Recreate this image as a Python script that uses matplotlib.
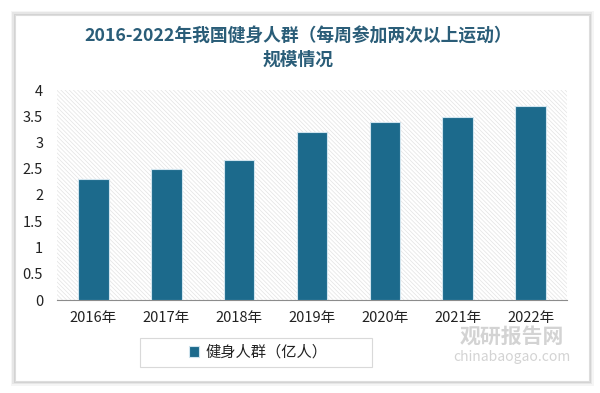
import matplotlib
matplotlib.use("Agg")
import matplotlib.pyplot as plt
from matplotlib.patches import Rectangle

plt.rcParams['font.family'] = ['Noto Sans CJK SC', 'DejaVu Sans']
plt.rcParams['hatch.color'] = '#e3e3e3'
plt.rcParams['hatch.linewidth'] = 0.5

categories = ['2016年', '2017年', '2018年', '2019年', '2020年', '2021年', '2022年']
values = [2.3, 2.5, 2.67, 3.2, 3.4, 3.48, 3.7]
series_name = '健身人群（亿人）'
title = '2016-2022年我国健身人群（每周参加两次以上运动）\n规模情况'
yticks = [0, 0.5, 1, 1.5, 2, 2.5, 3, 3.5, 4]
ytick_labels = ['0', '0.5', '1', '1.5', '2', '2.5', '3', '3.5', '4']

W, H = 600, 393
fig = plt.figure(figsize=(W/100, H/100), dpi=100, facecolor='white')

# card shadow + card
for i, a in enumerate([0.04, 0.06, 0.08]):
    off = (3 - i) * 1.5
    fig.patches.append(Rectangle(((15 - off)/W, (H - 381 - off)/H), (574 + 2*off)/W, (366 + 2*off)/H,
                                 transform=fig.transFigure, facecolor='#000000', alpha=a,
                                 edgecolor='none', zorder=-3))
fig.patches.append(Rectangle((15/W, (H-381)/H), 574/W, 366/H, transform=fig.transFigure,
                             facecolor='white', edgecolor='#dddddd', lw=0.8, zorder=-2))
# legend box
fig.patches.append(Rectangle((140/W, (H-367)/H), 232/W, 29/H, transform=fig.transFigure,
                             facecolor='white', edgecolor='#d9d9d9', lw=0.8, zorder=-1))

ax = fig.add_axes([57/W, (H-300)/H, (567-57)/W, (300-90)/H])
ax.set_zorder(1)
ax.set_facecolor('white')
ax.add_patch(Rectangle((0, 0), 1, 1, transform=ax.transAxes, facecolor='white',
                       edgecolor='#e3e3e3', hatch='\\\\\\\\\\\\\\\\', lw=0, zorder=0))
x = range(len(categories))
ax.bar(x, values, width=0.42, color='#1c6a8c', edgecolor='#d0e4ee', linewidth=0.8, zorder=3,
       label=series_name)
ax.set_xlim(-0.5, len(categories) - 0.5)
ax.set_ylim(0, 4)
ax.set_yticks(yticks)
ax.set_yticklabels(ytick_labels)
ax.set_xticks(list(x))
ax.set_xticklabels(categories)
for s in ['top', 'right', 'left']:
    ax.spines[s].set_visible(False)
ax.spines['bottom'].set_color('#8c8c8c')
ax.tick_params(axis='both', length=0, labelsize=10.5, colors='#222222')
ax.tick_params(axis='y', pad=10)
ax.tick_params(axis='x', pad=8)

fig.text(298/W, 1 - 48/H, title, ha='center', va='center', fontsize=12.8,
         fontweight='bold', color='#2a5d78', linespacing=1.3)

leg = fig.legend(loc='center', bbox_to_anchor=(258/W, 1 - 352/H), frameon=False,
                 fontsize=11, handlelength=0.7, handleheight=0.7, handletextpad=0.4)
for t in leg.get_texts():
    t.set_color('#222222')

fig.text(512/W, 1 - 336/H, '观研报告网', ha='center', va='center', fontsize=15,
         fontweight='bold', color='#cfcfcf', alpha=0.9)
fig.text(512/W, 1 - 357/H, 'chinabaogao.com', ha='center', va='center', fontsize=10,
         color='#cfcfcf', alpha=0.9)

fig.savefig('out.png', dpi=100, facecolor='white')
